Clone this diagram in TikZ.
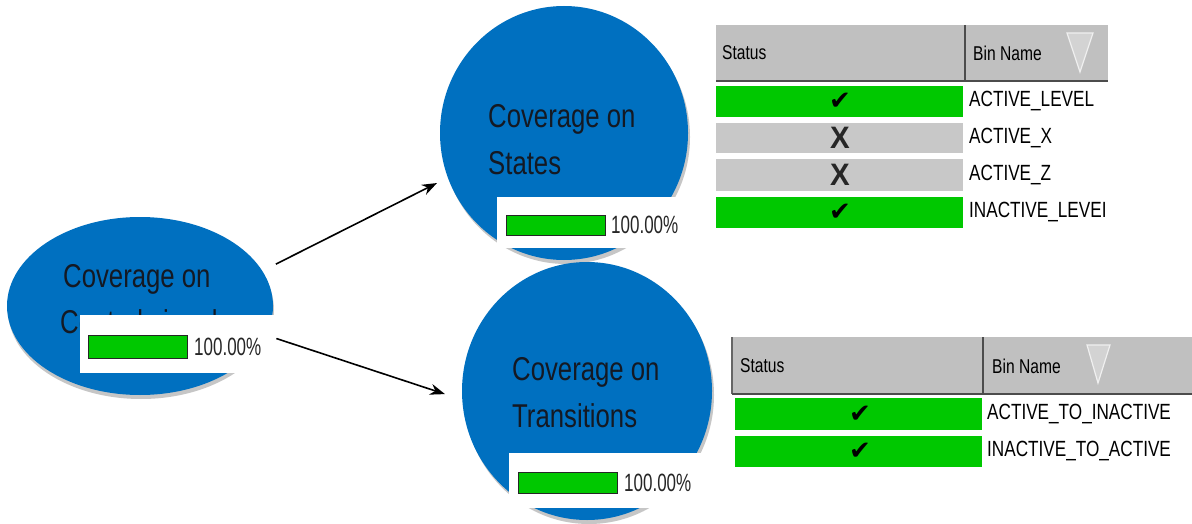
\documentclass[tikz,border=0pt]{standalone}
\usepackage{fontspec}
\setmainfont{Liberation Sans}[FakeStretch=0.78]
\newfontfamily\pctfont{Liberation Sans}[FakeStretch=0.68]
\newfontfamily\xfont{Liberation Sans}[FakeStretch=0.95]
\newfontfamily\symfont{DejaVu Sans}
\usetikzlibrary{shapes.geometric,arrows.meta}
\definecolor{cblue}{RGB}{0,112,192}
\definecolor{cgreen}{RGB}{0,200,0}
\definecolor{hgray}{RGB}{192,192,192}
\definecolor{rgray}{RGB}{200,200,200}
\definecolor{ctxt}{RGB}{20,25,35}
\tikzset{
  bubble/.style={ellipse, fill=cblue, inner sep=0, draw=none},
  shade/.style={ellipse, fill=gray!45, inner sep=0, draw=none},
  ctext/.style={anchor=base west, font=\fontsize{33}{40}\selectfont, inner sep=0, text=ctxt},
  card/.style={fill=white, draw=none, inner sep=0, anchor=north west},
  bar/.style={fill=cgreen, draw=black!85, line width=1.3pt, inner sep=0, anchor=north west},
  pct/.style={anchor=west, font=\pctfont\fontsize{25}{25}\selectfont, inner sep=0, text=black!85},
  hdr/.style={fill=hgray, draw=none, inner sep=0, anchor=north west},
  hdrtxt/.style={anchor=west, font=\fontsize{20}{20}\selectfont, inner sep=0},
  rowok/.style={fill=cgreen, draw=none, inner sep=0, anchor=north west},
  rowno/.style={fill=rgray, draw=none, inner sep=0, anchor=north west},
  bintxt/.style={anchor=west, font=\fontsize{22}{22}\selectfont, inner sep=0},
  chk/.style={font=\symfont\fontsize{26}{26}\selectfont, inner sep=0},
  xmk/.style={font=\xfont\bfseries\fontsize{31}{31}\selectfont, inner sep=0, text=black!85},
  sortmark/.style={draw=white!88!gray, line width=1.2pt, fill=hgray!70!white},
  sepline/.style={draw=black!70, line width=2pt},
  link/.style={-{Stealth[length=15pt,width=11pt]}, line width=1.6pt}
}
\begin{document}
\begin{tikzpicture}[x=1pt,y=-1pt]
\useasboundingbox[fill=white] (0,0) rectangle (1192,524);

% shadows
\node[shade, minimum width=266pt, minimum height=178pt] (ctrlsh) at (141,310) {};
\node[shade, minimum width=248pt, minimum height=254pt] (statesh) at (566,137) {};
\node[shade, minimum width=250pt, minimum height=258pt] (transh) at (589,395) {};

% bubbles
\node[bubble, minimum width=266pt, minimum height=178pt] (ctrl) at (140,306) {};
\node[bubble, minimum width=248pt, minimum height=254pt] (states) at (564,133) {};
\node[bubble, minimum width=250pt, minimum height=258pt] (trans) at (587,391) {};

% bubble texts
\node[ctext] (ctrlA) at (63,287) {Coverage on};
\node[ctext] (ctrlB) at (60,333) {Control signal};
\node[ctext] (statesA) at (488,128) {Coverage on};
\node[ctext] (statesB) at (488,175) {States};
\node[ctext] (transA) at (512,380) {Coverage on};
\node[ctext] (transB) at (512,427) {Transitions};

% progress cards
\node[card, minimum width=197pt, minimum height=58pt] (ctrlcard) at (80,315) {};
\node[bar, minimum width=99pt, minimum height=23pt] (ctrlbar) at (88,335) {};
\node[pct] (ctrlpct) at (194,347) {100.00\%};

\node[card, minimum width=195pt, minimum height=51pt] (statescard) at (497,197) {};
\node[bar, minimum width=99pt, minimum height=20pt] (statesbar) at (506,215) {};
\node[pct] (statespct) at (611,225) {100.00\%};

\node[card, minimum width=201pt, minimum height=55pt] (transcard) at (509,453) {};
\node[bar, minimum width=99pt, minimum height=21pt] (transbar) at (518,472) {};
\node[pct] (transpct) at (624,483) {100.00\%};

% connectors
\draw[link, shorten <=15pt, shorten >=12pt] (ctrl.16) -- (states.201);
\draw[link, shorten <=11pt, shorten >=18pt] (ctrl.347) -- (trans.184);

% table 1
\node[hdr, minimum width=392pt, minimum height=56pt] (t1hdr) at (716,25) {};
\draw[sepline] (965,25) -- (965,81);
\draw[sepline] (716,81) -- (1108,81);
\node[hdrtxt] (t1status) at (722,53) {Status};
\node[hdrtxt] (t1bin) at (973,53) {Bin Name};
\draw[sortmark] (1067,33) -- (1093,33) -- (1080,72) -- cycle;

\node[rowok, minimum width=247pt, minimum height=31pt] (t1r1) at (716,86) {};
\node[rowno, minimum width=247pt, minimum height=30pt] (t1r2) at (716,123) {};
\node[rowno, minimum width=247pt, minimum height=32pt] (t1r3) at (716,159) {};
\node[rowok, minimum width=247pt, minimum height=31pt] (t1r4) at (716,197) {};
\node[chk] (t1c1) at (840,101) {✔};
\node[xmk] (t1c2) at (840,138) {X};
\node[xmk] (t1c3) at (840,175) {X};
\node[chk] (t1c4) at (840,212) {✔};
\node[bintxt] (t1b1) at (969,101) {ACTIVE\_LEVEL};
\node[bintxt] (t1b2) at (969,138) {ACTIVE\_X};
\node[bintxt] (t1b3) at (969,175) {ACTIVE\_Z};
\node[bintxt] (t1b4) at (969,212) {INACTIVE\_LEVEI};

% table 2
\node[hdr, minimum width=460pt, minimum height=57pt] (t2hdr) at (732,337) {};
\draw[draw=black!60, line width=1.5pt] (732,337) -- (732,394);
\draw[sepline] (983,337) -- (983,394);
\draw[sepline] (732,394) -- (1192,394);
\node[hdrtxt] (t2status) at (740,366) {Status};
\node[hdrtxt] (t2bin) at (992,366) {Bin Name};
\draw[sortmark] (1087,345) -- (1110,345) -- (1098,383) -- cycle;

\node[rowok, minimum width=247pt, minimum height=32pt] (t2r1) at (735,398) {};
\node[rowok, minimum width=247pt, minimum height=31pt] (t2r2) at (735,436) {};
\node[chk] (t2c1) at (860,414) {✔};
\node[chk] (t2c2) at (860,451) {✔};
\node[bintxt] (t2b1) at (987,414) {ACTIVE\_TO\_INACTIVE};
\node[bintxt] (t2b2) at (987,451) {INACTIVE\_TO\_ACTIVE};
\end{tikzpicture}
\end{document}
